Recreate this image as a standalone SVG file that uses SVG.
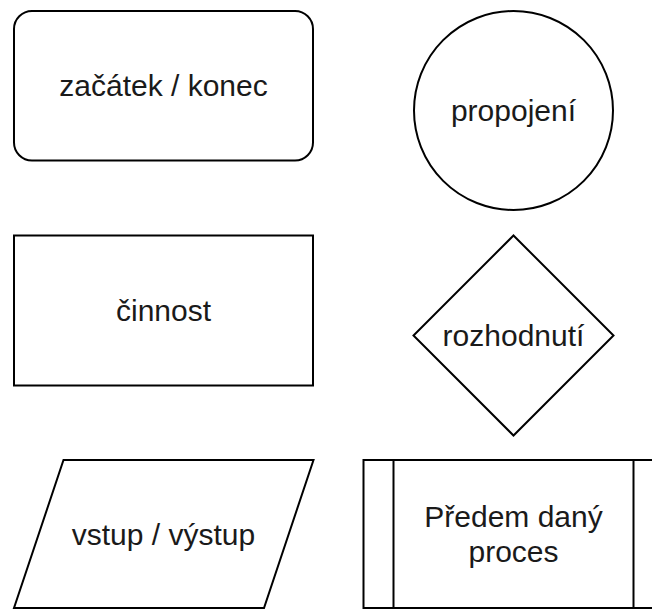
<svg xmlns="http://www.w3.org/2000/svg" width="652" height="610" viewBox="0 0 652 610">
  <style>
    .shape { fill: #ffffff; stroke: #000000; stroke-width: 2; }
    .label { font-family: "Liberation Sans", Arial, sans-serif; font-size: 30px; fill: #1a1a1a; text-anchor: middle; }
  </style>
  <rect x="0" y="0" width="652" height="610" fill="#ffffff"/>
  <g id="start-end">
    <rect class="shape" x="14" y="11" width="299" height="149.5" rx="18" ry="18"/>
    <text class="label" x="163.5" y="96">začátek / konec</text>
  </g>
  <g id="connector">
    <circle class="shape" cx="513.5" cy="110.5" r="99.5"/>
    <text class="label" x="513.5" y="121">propojení</text>
  </g>
  <g id="activity">
    <rect class="shape" x="14" y="235.5" width="299" height="150"/>
    <text class="label" x="163.5" y="321">činnost</text>
  </g>
  <g id="decision">
    <polygon class="shape" points="513.5,235.5 613.5,335.5 513.5,435.5 413.5,335.5"/>
    <text class="label" x="513.5" y="346">rozhodnutí</text>
  </g>
  <g id="input-output">
    <polygon class="shape" points="63.5,460 313.5,460 264,608 14,608"/>
    <text class="label" x="163.5" y="545">vstup / výstup</text>
  </g>
  <g id="predefined-process">
    <rect class="shape" x="363.5" y="460" width="300" height="148"/>
    <line class="shape" x1="393.5" y1="460" x2="393.5" y2="608"/>
    <line class="shape" x1="633.5" y1="460" x2="633.5" y2="608"/>
    <text class="label" x="513.5" y="527">Předem daný</text>
    <text class="label" x="513.5" y="562">proces</text>
  </g>
  <g id="connectors"></g>
</svg>
